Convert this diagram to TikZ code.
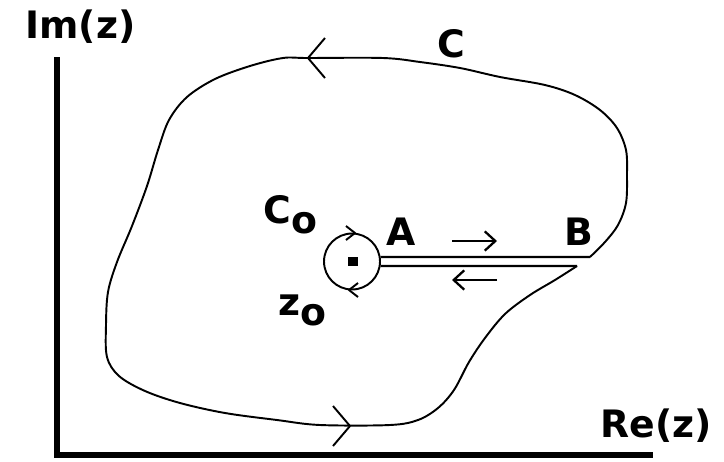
\documentclass[tikz,border=0pt]{standalone}
\usepackage{fontspec}
\setmainfont{DejaVu Sans}
\usetikzlibrary{arrows.meta}

\begin{document}
\begin{tikzpicture}[x=0.02cm, y=-0.02cm,
    lbl/.style={font=\bfseries\fontsize{21.5}{24}\selectfont, inner sep=0pt, anchor=base west},
    axisline/.style={line width=3.4pt},
    contour/.style={line width=1.1pt, line join=round},
    slitarrow/.style={line width=1.3pt, -{Straight Barb[length=6pt, width=11pt]}}
  ]
  \useasboundingbox (0,0) rectangle (724,461);

  % axes
  \coordinate (O) at (57,455);
  \coordinate (ytop) at (57,57);
  \coordinate (xend) at (653,455);
  \draw[axisline] (ytop) -- (O) -- (xend);
  \node[lbl] (imlab) at (25,38) {Im(z)};
  \node[lbl] (relab) at (600,437) {Re(z)};

  % the contour C
  \coordinate (Bpt) at (590,257);
  \coordinate (Blow) at (577,266);
  \draw[contour] plot[smooth, tension=0.55] coordinates {
    (590,257) (605,242) (618,225) (626,203) (627,175) (626,150) (617,128)
    (600,110) (575,95) (545,85) (500,77) (460,68) (420,62) (383,58) (308,58)
    (283,58) (250,66) (215,79) (187,97) (169,120) (158,150) (147,186)
    (132,226) (117,262) (108,292) (106,325) (107,357) (119,376) (145,391)
    (180,403) (225,413) (277,420) (320,425) (390,425) (418,420) (438,408)
    (454,390) (469,362) (485,338) (505,314) (530,295) (555,280) (577,266)};
  \draw[contour] (325,38) -- (308,58) -- (325,78);
  \draw[contour] (333,406) -- (350,426) -- (333,446);
  \node[lbl] (clab) at (437,57) {C};

  % small circle round z0 and the slit
  \node[draw, circle, line width=1.1pt, minimum size=1.12cm, inner sep=0pt] (Cz) at (352,261.5) {};
  \node[fill, minimum size=0.19cm, inner sep=0pt] (zdot) at (353,261.5) {};
  \draw[contour] (346,226) -- (355,233) -- (346,240);
  \draw[contour] (358,283) -- (349,290) -- (358,297);
  \draw[line width=1.2pt] (Cz.9) -- (Bpt);
  \draw[line width=1.2pt] (Cz.-9) -- (Blow);
  \node[lbl] (alab) at (386,245) {A};
  \node[lbl] (blab) at (564,245) {B};
  \node[lbl] (c0lab) at (263,223) {C\raisebox{-0.28em}{o}};
  \node[lbl] (z0lab) at (278,315) {z\raisebox{-0.28em}{o}};

  % directions along the slit
  \coordinate (up1) at (452,241);
  \coordinate (up2) at (497,241);
  \coordinate (lo1) at (497,280);
  \coordinate (lo2) at (452,280);
  \draw[slitarrow] (up1) -- (up2);
  \draw[slitarrow] (lo1) -- (lo2);
\end{tikzpicture}
\end{document}
